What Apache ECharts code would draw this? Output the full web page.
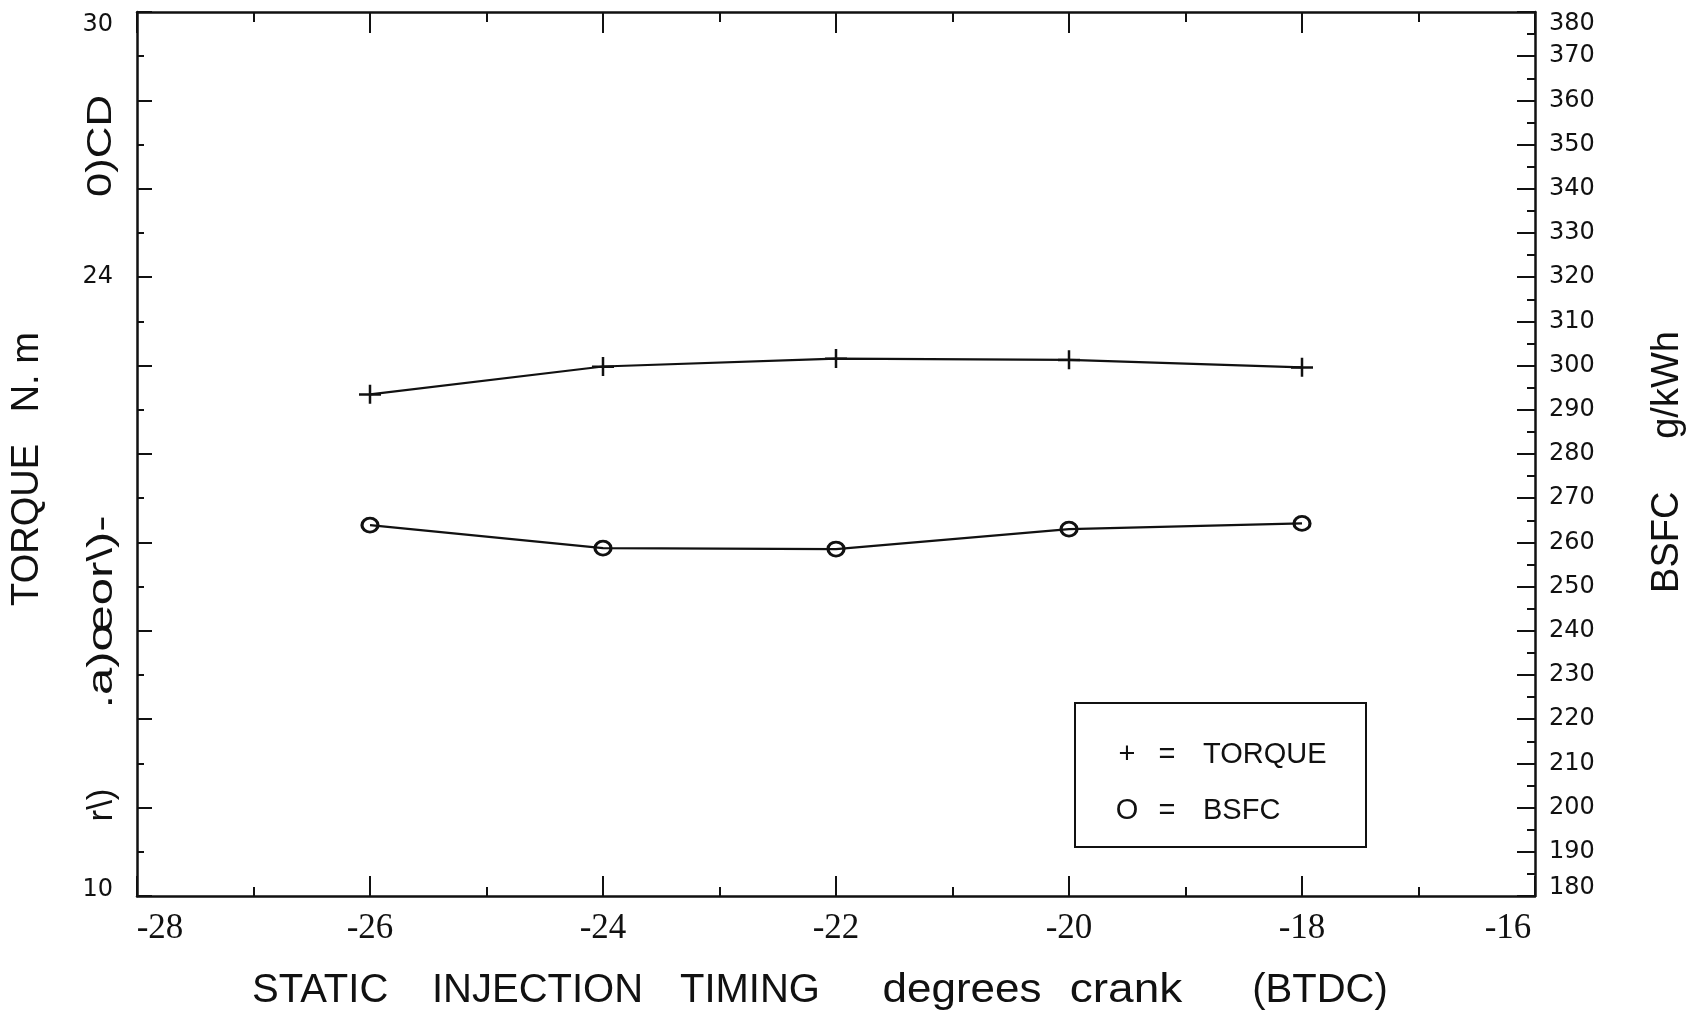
<!DOCTYPE html>
<html>
<head>
<meta charset="utf-8">
<script src="https://cdn.jsdelivr.net/npm/echarts@6/dist/echarts.min.js"></script>
<style>
html,body{margin:0;padding:0;background:#fff;}
#chart{width:1699px;height:1021px;}
</style>
</head>
<body>
<div id="chart"></div>
<script>
// ---- data ----
const timing = [-26, -24, -22, -20, -18];          // static injection timing, deg crank BTDC
const torque = [21.35, 21.98, 22.16, 22.13, 21.96]; // N.m (left axis)
const bsfc   = [263.9, 258.7, 258.5, 263.0, 264.3]; // g/kWh (right axis)

const xTicks = { min: -28, max: -16, step: 2 };
const leftTicks = { min: 10, max: 30, step: 2 };
const leftShown = [30, 24, 10];
const rightTicks = { min: 180, max: 380, step: 10 };

const xTitleWords = ['STATIC', 'INJECTION', 'TIMING', 'degrees', 'crank', '(BTDC)'];
const leftTitle = 'TORQUE   N. m';
const rightTitle = 'BSFC     g/kWh';
const leftScanText = ['0)CD', '.a)œor\\)-', 'r\\)'];
const legendNames = ['TORQUE', 'BSFC'];
const legendMarks = ['+', 'O'];

// ---- chart ----
const INK = '#111';
const SANS = 'Liberation Sans, Arial, sans-serif';
const TICKFONT = 'DejaVu Sans, sans-serif';
const SERIF = 'Liberation Serif, Times New Roman, serif';
const TFS = 24;   // tick label font size (y axes)
const XFS = 35;   // x tick label font size

const chart = echarts.init(document.getElementById('chart'), null, { renderer: 'canvas' });

const tickRich = (fs, fam, top, bottom) => ({
  t: { padding: [top, 0, 0, 0], fontSize: fs, fontFamily: fam, color: INK },
  b: { padding: [0, 0, bottom, 0], fontSize: fs, fontFamily: fam, color: INK },
  n: { fontSize: fs, fontFamily: fam, color: INK }
});

const pts = (ys) => timing.map((x, i) => [x, ys[i]]);

const gridL = 137, gridT = 12, gridW = 1398, gridH = 884;

const xWordPos = [[252, 'left', 1], [432, 'left', 1], [680, 'left', 1], [962, 'center', 1.1], [1126, 'center', 1.15], [1320, 'center', 1]];

const graphics = [];
xTitleWords.forEach((w, i) => {
  graphics.push({
    type: 'text', x: xWordPos[i][0], y: 991, scaleX: xWordPos[i][2],
    style: { text: w, font: '40px ' + SANS, fill: INK, textAlign: xWordPos[i][1], textVerticalAlign: 'middle' }
  });
});
graphics.push({
  type: 'text', x: 28, y: 469, rotation: Math.PI / 2,
  style: { text: leftTitle, font: '38px ' + SANS, fill: INK, textAlign: 'center', textVerticalAlign: 'middle' }
});
graphics.push({
  type: 'text', x: 1668, y: 462, rotation: Math.PI / 2,
  style: { text: rightTitle, font: '38px ' + SANS, fill: INK, textAlign: 'center', textVerticalAlign: 'middle' }
});
const scanPos = [[101, 146, 1.25], [102, 612, 1.4], [102, 805, 1.0]];
leftScanText.forEach((t, i) => {
  graphics.push({
    type: 'text', x: scanPos[i][0], y: scanPos[i][1], rotation: Math.PI / 2, scaleX: scanPos[i][2],
    style: { text: t, font: '35px ' + SANS, fill: INK, textAlign: 'center', textVerticalAlign: 'middle' }
  });
});
// legend box
graphics.push({
  type: 'rect', shape: { x: 1075, y: 703, width: 291, height: 144 },
  style: { fill: 'none', stroke: INK, lineWidth: 2 }
});
const legY = [755, 811];
legendNames.forEach((n, i) => {
  graphics.push({ type: 'text', x: 1127, y: legY[i], style: { text: legendMarks[i], font: '29px ' + SANS, fill: INK, textAlign: 'center', textVerticalAlign: 'middle' } });
  graphics.push({ type: 'text', x: 1167, y: legY[i], style: { text: '=', font: '29px ' + SANS, fill: INK, textAlign: 'center', textVerticalAlign: 'middle' } });
  graphics.push({ type: 'text', x: 1203, y: legY[i], style: { text: n, font: '29px ' + SANS, fill: INK, textAlign: 'left', textVerticalAlign: 'middle' } });
});

const axisLine = { show: true, onZero: false, lineStyle: { color: INK, width: 2.5 } };

const option = {
  animation: false,
  backgroundColor: '#fff',
  grid: { left: gridL, top: gridT, width: gridW, height: gridH, containLabel: false },
  xAxis: [
    {
      type: 'value', position: 'bottom', min: xTicks.min, max: xTicks.max, interval: xTicks.step,
      axisLine: axisLine,
      axisTick: { show: true, inside: true, length: 20, lineStyle: { color: INK, width: 2 } },
      minorTick: { show: true, splitNumber: 2, length: 9, lineStyle: { color: INK, width: 2 } },
      splitLine: { show: false },
      axisLabel: {
        margin: 15, fontSize: XFS, fontFamily: SERIF, color: INK,
        formatter: v => v === xTicks.min ? '{l|' + v + '}' : v === xTicks.max ? '{r|' + v + '}' : '{n|' + v + '}',
        rich: {
          l: { padding: [0, 0, 0, 46], fontSize: XFS, fontFamily: SERIF, color: INK },
          r: { padding: [0, 54, 0, 0], fontSize: XFS, fontFamily: SERIF, color: INK },
          n: { fontSize: XFS, fontFamily: SERIF, color: INK }
        }
      }
    },
    {
      type: 'value', position: 'top', min: xTicks.min, max: xTicks.max, interval: xTicks.step,
      axisLine: axisLine,
      axisTick: { show: true, inside: true, length: 21, lineStyle: { color: INK, width: 2 } },
      minorTick: { show: true, splitNumber: 2, length: 10, lineStyle: { color: INK, width: 2 } },
      splitLine: { show: false },
      axisLabel: { show: false }
    }
  ],
  yAxis: [
    {
      type: 'value', position: 'left', min: leftTicks.min, max: leftTicks.max, interval: leftTicks.step,
      axisLine: axisLine,
      axisTick: { show: true, inside: true, length: 15, lineStyle: { color: INK, width: 2 } },
      minorTick: { show: true, splitNumber: 2, length: 7, lineStyle: { color: INK, width: 2 } },
      splitLine: { show: false },
      axisLabel: {
        margin: 24, fontSize: TFS, fontFamily: TICKFONT, color: INK,
        formatter: v => {
          if (leftShown.indexOf(v) < 0) return '';
          if (v === leftTicks.max) return '{t|' + v + '}';
          if (v === leftTicks.min) return '{b|' + v + '}';
          return '{n|' + v + '}';
        },
        rich: tickRich(TFS, TICKFONT, 26, 12)
      }
    },
    {
      type: 'value', position: 'right', min: rightTicks.min, max: rightTicks.max, interval: rightTicks.step,
      axisLine: axisLine,
      axisTick: { show: true, inside: true, length: 18, lineStyle: { color: INK, width: 2 } },
      minorTick: { show: true, splitNumber: 2, length: 8, lineStyle: { color: INK, width: 2 } },
      splitLine: { show: false },
      axisLabel: {
        margin: 14, fontSize: TFS, fontFamily: TICKFONT, color: INK,
        formatter: v => v === rightTicks.max ? '{t|' + v + '}' : v === rightTicks.min ? '{b|' + v + '}' : '{n|' + v + '}',
        rich: tickRich(TFS, TICKFONT, 24, 16)
      }
    }
  ],
  series: [
    {
      name: legendNames[0], type: 'line', xAxisIndex: 0, yAxisIndex: 0,
      data: pts(torque),
      symbol: 'path://M0,8.5H22V11H0Z M9.75,0H12.25V19H9.75Z', symbolSize: [22, 19],
      itemStyle: { color: INK },
      lineStyle: { color: INK, width: 2.2 }
    },
    {
      name: legendNames[1], type: 'line', xAxisIndex: 0, yAxisIndex: 1,
      data: pts(bsfc),
      symbol: 'circle', symbolSize: [16, 14],
      itemStyle: { color: 'rgba(255,255,255,0)', borderColor: INK, borderWidth: 3 },
      lineStyle: { color: INK, width: 2.2 }
    }
  ],
  graphic: graphics
};

chart.setOption(option);
</script>
</body>
</html>
